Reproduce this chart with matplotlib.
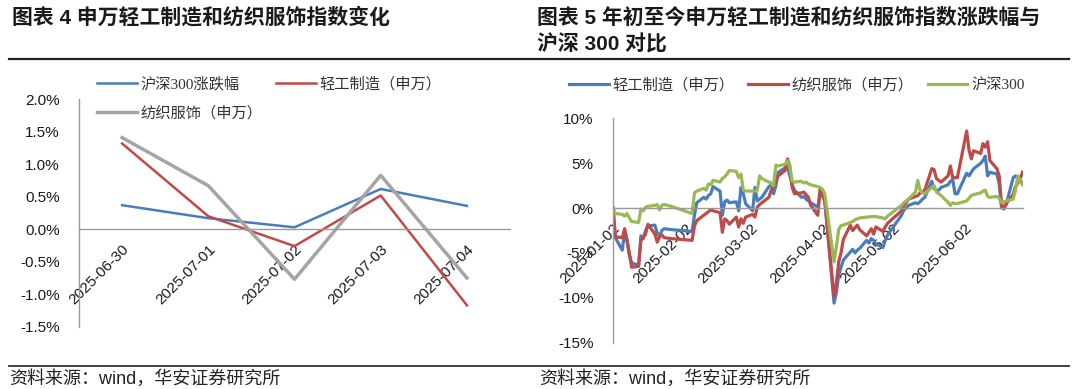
import numpy as np
import matplotlib
matplotlib.use('Agg')
import matplotlib.pyplot as plt
import matplotlib.dates as mdates
from matplotlib.lines import Line2D
from matplotlib.ticker import FuncFormatter

plt.rcParams['font.family'] = ['Liberation Sans', 'Noto Sans CJK SC']

# ---------------- data: left chart (weekly change, %) ----------------
week_dates = ['2025-06-30', '2025-07-01', '2025-07-02', '2025-07-03', '2025-07-04']
hs300_week = [0.37, 0.17, 0.03, 0.62, 0.36]
light_week = [1.32, 0.20, -0.26, 0.52, -1.17]
textile_week = [1.41, 0.67, -0.77, 0.83, -0.75]

# ---------------- data: right chart (YTD change, %) ----------------
ytd_dates = [
    '2025-01-02', '2025-01-03', '2025-01-06', '2025-01-07', '2025-01-08', '2025-01-09', '2025-01-10',
    '2025-01-13', '2025-01-14', '2025-01-15', '2025-01-16', '2025-01-17', '2025-01-20', '2025-01-21',
    '2025-01-22', '2025-01-23', '2025-01-24', '2025-01-27',
    '2025-02-05', '2025-02-06', '2025-02-07', '2025-02-10', '2025-02-11', '2025-02-12', '2025-02-13',
    '2025-02-14', '2025-02-17', '2025-02-18', '2025-02-19', '2025-02-20', '2025-02-21', '2025-02-24',
    '2025-02-25', '2025-02-26', '2025-02-27', '2025-02-28',
    '2025-03-03', '2025-03-04', '2025-03-05', '2025-03-06', '2025-03-07', '2025-03-10', '2025-03-11',
    '2025-03-12', '2025-03-13', '2025-03-14', '2025-03-17', '2025-03-18', '2025-03-19', '2025-03-20',
    '2025-03-21', '2025-03-24', '2025-03-25', '2025-03-26', '2025-03-27', '2025-03-28', '2025-03-31',
    '2025-04-01', '2025-04-02', '2025-04-03', '2025-04-07', '2025-04-08', '2025-04-09', '2025-04-10',
    '2025-04-11', '2025-04-14', '2025-04-15', '2025-04-16', '2025-04-17', '2025-04-18', '2025-04-21',
    '2025-04-22', '2025-04-23', '2025-04-24', '2025-04-25', '2025-04-28', '2025-04-29', '2025-04-30',
    '2025-05-06', '2025-05-07', '2025-05-08', '2025-05-09', '2025-05-12', '2025-05-13', '2025-05-14',
    '2025-05-15', '2025-05-16', '2025-05-19', '2025-05-20', '2025-05-21', '2025-05-22', '2025-05-23',
    '2025-05-26', '2025-05-27', '2025-05-28', '2025-05-29', '2025-05-30',
    '2025-06-03', '2025-06-04', '2025-06-05', '2025-06-06', '2025-06-09', '2025-06-10', '2025-06-11',
    '2025-06-12', '2025-06-13', '2025-06-16', '2025-06-17', '2025-06-18', '2025-06-19', '2025-06-20',
    '2025-06-23', '2025-06-24', '2025-06-25', '2025-06-26', '2025-06-27',
]

light_ytd = [
    0.0, -3.3, -4.7, -2.6, -3.5, -5.2, -6.1, -6.4, -3.1, -3.4, -2.5, -2.0, -1.9, -2.8, -3.1, -2.5, -2.3, -2.4,
    -2.6, -0.8, 0.6, 1.2, 1.0, 1.4, 1.6, 2.4, 1.9, -0.8, 0.7, 0.9, 0.6, 0.7, -0.3, 2.3, 1.6, 0.5,
    -0.3, 2.3, 0.8, 1.0, 1.2, 2.4, 2.6, 1.6, 2.5, 4.0, 4.5, 4.6, 3.6, 2.6, 2.0, 1.2, 1.3, 1.0, 0.8, 0.6, 0.1,
    1.6, 1.4, 1.0, -10.6, -9.4, -7.5, -6.6, -5.8, -4.9, -4.6, -5.0, -4.7, -4.5, -3.6, -3.9, -3.4, -3.6,
    -4.0, -4.4, -3.6, -3.0,
    -0.8, -0.2, 0.0, 0.3, 0.6, 0.5, 0.7, 1.0, 1.2, 3.0, 2.2, 1.95, 2.0, 2.3, 2.6, 3.0, 3.2, 1.6, 1.6,
    3.9, 3.6, 4.0, 4.4, 5.0, 5.3, 5.8, 3.6, 4.0, 3.8, 2.7, 0.0, 0.2, 0.4, 3.4, 3.6, 3.3, 3.0, 2.9,
]

textile_ytd = [
    0.0, -3.2, -3.3, -2.3, -3.6, -5.0, -6.6, -6.5, -3.6, -3.3, -2.9, -1.8, -2.9, -3.8, -3.2, -3.0, -3.3, -3.4,
    -3.6, -2.0, -1.4, -0.8, -0.6, -0.4, -0.2, -0.3, -0.5, -2.7, -1.2, -1.4, -1.8, -1.0, -2.1, -1.2, -1.7, -1.0,
    -0.7, -1.0, 0.1, 0.4, 0.6, 1.2, 2.0, 2.3, 3.0, 3.6, 4.2, 5.5, 4.7, 2.3, 1.6, 1.7, 1.8, 1.5, 1.2, 0.3, -0.8,
    2.1, 1.4, 0.8, -9.9, -8.4, -6.0, -5.0, -3.5, -1.9, -2.5, -2.2, -1.9, -2.4, -3.1, -2.7, -2.3, -2.9,
    -2.1, -2.6, -2.1, -1.7,
    -0.3, 0.3, 0.6, 1.0, 1.3, 1.4, 1.7, 1.8, 2.0, 4.4, 4.3, 3.3, 3.1, 2.9, 3.6, 4.7, 3.4, 3.4, 3.4,
    8.6, 6.5, 5.5, 6.4, 6.1, 7.2, 6.8, 7.4, 5.3, 4.4, 3.6, 0.3, -0.1, 0.5, 1.5, 2.4, 2.8, 3.3, 4.0,
]

hs300_ytd = [
    0.0, -0.6, -0.7, -0.9, -0.6, -1.1, -1.5, -1.6, -0.1, -0.3, 0.1, 0.2, 0.3, 0.4, -0.2, 0.3, 0.4, 0.2,
    -0.6, 1.7, 1.9, 2.2, 2.0, 2.7, 2.6, 3.1, 2.9, 3.3, 3.5, 3.8, 4.2, 4.1, 3.4, 3.8, 2.0, 1.9,
    1.9, 1.9, 2.0, 3.6, 3.3, 2.9, 2.8, 2.5, 4.8, 4.7, 4.9, 5.3, 4.6, 3.0, 2.9, 3.0, 2.8, 2.9, 2.7, 2.6, 2.4,
    2.3, 2.1, 1.6, -6.0, -4.3, -2.4, -1.95, -1.9, -1.6, -1.5, -1.3, -1.2, -1.1, -1.0, -1.0, -0.95, -0.95,
    -0.95, -1.1, -1.2, -0.9,
    0.3, 0.6, 0.8, 1.0, 1.8, 3.1, 2.0, 1.7, 1.6, 2.3, 2.5, 1.8, 1.6, 1.4, 0.65, 0.3, 0.6, 0.5, 0.5,
    0.8, 1.1, 1.4, 1.5, 1.7, 1.9, 2.0, 1.3, 1.2, 1.3, 1.1, 0.6, 0.7, 0.8, 1.0, 2.0, 3.6, 3.0, 2.6,
]

ytd_tick_dates = ['2025-01-02', '2025-02-02', '2025-03-02', '2025-04-02', '2025-05-02', '2025-06-02']

# ---------------- styles ----------------
BLUE = '#4A7EBB'
RED = '#BE4B48'
GREEN = '#98B954'
GRAY = '#A5A5A5'
AXIS = '#9A9A9A'
W, H = 1080, 389

fig = plt.figure(figsize=(W / 100, H / 100), dpi=100)


def fx(px):
    return px / W


def fy(py):
    return 1 - py / H


# ---------------- titles and rules ----------------
title_kw = dict(fontsize=15, fontweight='bold', va='center', ha='left', color='#1a1a1a')
fig.text(fx(12), fy(17), '图表 4 申万轻工制造和纺织服饰指数变化', **title_kw)
fig.text(fx(537), fy(17), '图表 5 年初至今申万轻工制造和纺织服饰指数涨跌幅与', **title_kw)
fig.text(fx(537), fy(44), '沪深 300 对比', **title_kw)
fig.add_artist(Line2D([fx(9), fx(1069)], [fy(58.5), fy(58.5)], color='#222222', lw=1.6))
fig.add_artist(Line2D([fx(9), fx(1069)], [fy(366), fy(366)], color='#333333', lw=1.3))
fig.text(fx(9), fy(379), '资料来源：wind，华安证券研究所', fontsize=13, va='center', ha='left',
         color='#222222')
fig.text(fx(539), fy(379), '资料来源：wind，华安证券研究所', fontsize=13, va='center', ha='left',
         color='#222222')

# ---------------- left chart ----------------
axL = fig.add_axes([fx(79), fy(326.7), fx(510) - fx(79), fy(99.3) - fy(326.7)])
lb, = axL.plot(week_dates, hs300_week, color=BLUE, lw=1.8)
lr, = axL.plot(week_dates, light_week, color=RED, lw=1.8)
lg, = axL.plot(week_dates, textile_week, color=GRAY, lw=2.5)
axL.set_xlim(-0.5, 4.5)
axL.set_ylim(-1.5, 2.0)
axL.set_yticks(np.arange(-1.5, 2.01, 0.5))
axL.yaxis.set_major_formatter(FuncFormatter(lambda v, p: f'{v:.1f}%'))

# ---------------- right chart ----------------
axR = fig.add_axes([fx(613), fy(342.5), fx(1022.5) - fx(613), fy(118.5) - fy(342.5)])
xd = np.array(ytd_dates, dtype='datetime64[D]')
rb, = axR.plot(xd, light_ytd, color=BLUE, lw=2.3)
rr, = axR.plot(xd, textile_ytd, color=RED, lw=2.3)
rg, = axR.plot(xd, hs300_ytd, color=GREEN, lw=2.3)
axR.set_xlim(xd[0], xd[-1])
axR.set_ylim(-15, 10)
axR.set_yticks(np.arange(-15, 10.1, 5))
axR.yaxis.set_major_formatter(FuncFormatter(lambda v, p: f'{v:.0f}%'))
axR.set_xticks(np.array(ytd_tick_dates, dtype='datetime64[D]'))
axR.xaxis.set_major_formatter(mdates.DateFormatter('%Y-%m-%d'))

for ax in (axL, axR):
    for s in ('top', 'right'):
        ax.spines[s].set_visible(False)
    ax.spines['bottom'].set_position(('data', 0))
    ax.spines['bottom'].set_color(AXIS)
    ax.spines['left'].set_color(AXIS)
    ax.spines['bottom'].set_linewidth(1.0)
    ax.spines['left'].set_linewidth(1.0)
    ax.patch.set_alpha(0)
    ax.tick_params(axis='both', length=0, labelsize=11, colors='#1a1a1a')
    ax.tick_params(axis='y', pad=14)
    ax.tick_params(axis='x', pad=9)
    for lab in ax.get_xticklabels():
        lab.set_rotation(45)
        lab.set_ha('right')
        lab.set_va('top')
        lab.set_rotation_mode('anchor')

# ---------------- legends ----------------
legfont = {'family': ['Liberation Serif', 'Noto Sans CJK SC'], 'size': 11}
legL = fig.legend([lb, lg, lr], ['沪深300涨跌幅', '纺织服饰（申万）', '轻工制造（申万）'],
                  ncol=2, loc='upper left', bbox_to_anchor=(fx(97), fy(77)),
                  frameon=False, prop=legfont, handlelength=2.6, handletextpad=0.25,
                  columnspacing=0.9, labelspacing=0.95, borderpad=0, borderaxespad=0)
for t in legL.get_texts():
    t.set_color('#333333')
legR = fig.legend([rb, rr, rg], ['轻工制造（申万）', '纺织服饰（申万）', '沪深300'],
                  ncol=3, loc='upper left', bbox_to_anchor=(fx(569), fy(78)),
                  frameon=False, prop=legfont, handlelength=2.6, handletextpad=0.25,
                  columnspacing=0.9, borderpad=0, borderaxespad=0)
for t in legR.get_texts():
    t.set_color('#333333')

fig.savefig('out.png', dpi=100)
